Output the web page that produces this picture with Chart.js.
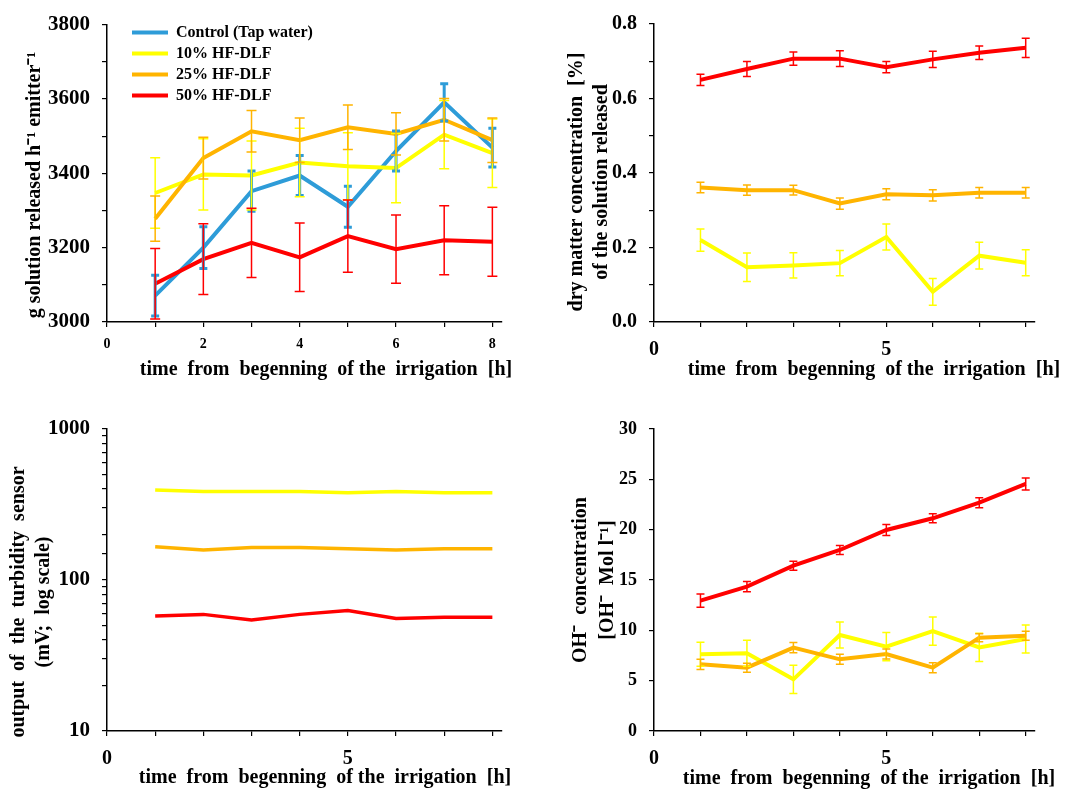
<!DOCTYPE html>
<html>
<head>
<meta charset="utf-8">
<script src="https://cdn.jsdelivr.net/npm/chart.js@4.4.1/dist/chart.umd.min.js"></script>
<style>
body { margin: 0; background: #fff; }
#wrap { position: relative; width: 1070px; height: 792px; overflow: hidden; }
canvas { position: absolute; }
</style>
</head>
<body>
<div id="wrap">
<canvas id="flow-chart" width="535" height="396" style="left:0px;top:0px"></canvas>
<canvas id="dry-chart" width="535" height="396" style="left:535px;top:0px"></canvas>
<canvas id="turb-chart" width="535" height="396" style="left:0px;top:396px"></canvas>
<canvas id="oh-chart" width="535" height="396" style="left:535px;top:396px"></canvas>
</div>
<script>
// hours after start of irrigation
const hours = [1, 2, 3, 4, 5, 6, 7, 8];

// top left: g solution released per h per emitter
const flowControl = [3071, 3200, 3352, 3394, 3310, 3460, 3591, 3469];
const flowControlErr = [55, 56, 54, 54, 55, 54, 50, 52];
const flow10 = [3347, 3397, 3394, 3429, 3419, 3414, 3504, 3454];
const flow10Err = [95, 96, 93, 92, 90, 93, 92, 92];
const flow25 = [3278, 3441, 3513, 3489, 3524, 3506, 3544, 3489];
const flow25Err = [61, 56, 56, 60, 60, 57, 57, 60];
const flow50 = [3103, 3169, 3213, 3174, 3231, 3196, 3220, 3216];
const flow50Err = [95, 95, 93, 92, 97, 92, 93, 93];

// top right: dry matter concentration [%]
const dry10 = [0.220, 0.147, 0.152, 0.158, 0.228, 0.081, 0.178, 0.159];
const dry10Err = [0.030, 0.038, 0.034, 0.034, 0.035, 0.036, 0.036, 0.035];
const dry25 = [0.361, 0.354, 0.354, 0.318, 0.343, 0.340, 0.347, 0.347];
const dry25Err = [0.014, 0.014, 0.013, 0.015, 0.015, 0.015, 0.014, 0.014];
const dry50 = [0.650, 0.679, 0.707, 0.707, 0.684, 0.705, 0.723, 0.736];
const dry50Err = [0.015, 0.020, 0.018, 0.021, 0.015, 0.022, 0.018, 0.026];

// bottom left: turbidity sensor output (mV)
const turb10 = [394, 386, 386, 386, 379, 386, 379, 379];
const turb25 = [166, 158, 164, 164, 161, 158, 161, 161];
const turb50 = [57.8, 59.2, 54.3, 59.2, 62.7, 55.7, 56.6, 56.6];

// bottom right: OH- concentration
const oh10 = [7.62, 7.72, 5.13, 9.54, 8.38, 9.93, 8.31, 9.14];
const oh10Err = [1.2, 1.3, 1.4, 1.3, 1.4, 1.4, 1.4, 1.4];
const oh25 = [6.62, 6.29, 8.28, 7.12, 7.65, 6.29, 9.27, 9.47];
const oh25Err = [0.5, 0.45, 0.5, 0.5, 0.5, 0.5, 0.4, 0.45];
const oh50 = [12.95, 14.34, 16.42, 17.98, 19.97, 21.13, 22.68, 24.54];
const oh50Err = [0.65, 0.5, 0.45, 0.45, 0.55, 0.45, 0.5, 0.6];

const seriesNames = ["Control (Tap water)", "10% HF-DLF", "25% HF-DLF", "50% HF-DLF"];
const xTitle = "time  from  begenning  of the  irrigation  [h]";

const BLUE = '#2e9cd8';
const YELLOW = '#ffff00';
const ORANGE = '#ffb400';
const RED = '#ff0000';
const serif = '"Liberation Serif", "Times New Roman", serif';

Chart.defaults.font.family = serif;
Chart.defaults.font.weight = 'bold';
Chart.defaults.color = '#000';
Chart.defaults.animation = false;

// vertical error bars with caps, from dataset.errors
const errorBars = {
    id: 'errorBars',
    afterDatasetsDraw(chart) {
        const ctx = chart.ctx;
        const yScale = chart.scales.y;
        chart.data.datasets.forEach((ds, i) => {
            if (!ds.errors) return;
            const meta = chart.getDatasetMeta(i);
            ctx.save();
            ctx.strokeStyle = ds.borderColor;
            ctx.lineWidth = ds.errorWidth || 1.5;
            const cap = ds.capSize || 4;
            meta.data.forEach((pt, j) => {
                const v = ds.data[j].y;
                const e = ds.errors[j];
                const top = yScale.getPixelForValue(v + e);
                const bot = yScale.getPixelForValue(v - e);
                ctx.beginPath();
                ctx.moveTo(pt.x, top); ctx.lineTo(pt.x, bot);
                ctx.moveTo(pt.x - cap, top); ctx.lineTo(pt.x + cap, top);
                ctx.moveTo(pt.x - cap, bot); ctx.lineTo(pt.x + cap, bot);
                ctx.stroke();
            });
            ctx.restore();
        });
    }
};

// axis titles placed where the figure has them
const axisTitles = {
    id: 'axisTitles',
    afterDraw(chart, args, opts) {
        const ctx = chart.ctx;
        ctx.save();
        ctx.fillStyle = '#000';
        ctx.textAlign = 'center';
        ctx.textBaseline = 'middle';
        for (const t of opts.items || []) {
            ctx.font = 'bold ' + t.size + 'px ' + serif;
            ctx.save();
            ctx.translate(t.x, t.y);
            if (t.vertical) ctx.rotate(-Math.PI / 2);
            ctx.fillText(t.text, 0, 0);
            ctx.restore();
        }
        ctx.restore();
    }
};

Chart.register(errorBars, axisTitles);

const points = function (values) {
    return hours.map((h, i) => ({ x: h, y: values[i] }));
};

const line = function (label, values, color, width, order, errors, errorWidth, capSize) {
    return {
        label: label,
        data: points(values),
        borderColor: color,
        backgroundColor: color,
        borderWidth: width,
        pointRadius: 0,
        tension: 0,
        order: order,
        errors: errors,
        errorWidth: errorWidth,
        capSize: capSize
    };
};

const xAxis = function (height, fontSize, pad, labelEvery) {
    return {
        type: 'linear',
        min: 0,
        max: 8.2,
        afterFit: (scale) => { scale.height = height; },
        border: { display: true, color: '#000', width: 1.5 },
        grid: { drawOnChartArea: false, color: '#000', tickLength: 5, lineWidth: 1.2 },
        ticks: {
            stepSize: 1,
            includeBounds: false,
            maxRotation: 0,
            autoSkip: false,
            padding: pad,
            font: { size: fontSize, weight: 'bold' },
            callback: (v) => (v % labelEvery === 0 ? v : '')
        }
    };
};

const yAxis = function (width, fontSize, extra) {
    return Object.assign({
        type: 'linear',
        afterFit: (scale) => { scale.width = width; },
        border: { display: true, color: '#000', width: 1.5 },
        grid: { drawOnChartArea: false, color: '#000', tickLength: 5, lineWidth: 1.2 }
    }, extra, {
        ticks: Object.assign({
            autoSkip: false,
            padding: 12,
            font: { size: fontSize, weight: 'bold' }
        }, extra.ticks)
    });
};

// top left
new Chart(document.getElementById('flow-chart'), {
    type: 'line',
    data: {
        datasets: [
            line(seriesNames[0], flowControl, BLUE, 4, 4, flowControlErr, 3, 4),
            line(seriesNames[1], flow10, YELLOW, 4, 3, flow10Err, 1.5, 5),
            line(seriesNames[2], flow25, ORANGE, 4, 2, flow25Err, 1.5, 5),
            line(seriesNames[3], flow50, RED, 4, 1, flow50Err, 1.5, 5)
        ]
    },
    options: {
        responsive: false,
        layout: { padding: { left: 0, top: 20, right: 33, bottom: 0 } },
        scales: {
            x: xAxis(74, 14, 9, 2),
            y: yAxis(107, 21, {
                min: 3000, max: 3800,
                ticks: { stepSize: 100, callback: (v) => (v % 200 === 0 ? v : '') }
            })
        },
        plugins: {
            legend: {
                position: 'chartArea',
                align: 'start',
                labels: {
                    usePointStyle: true,
                    pointStyle: 'line',
                    pointStyleWidth: 36,
                    boxHeight: 16,
                    padding: 5,
                    color: '#000',
                    font: { size: 16, weight: 'bold', lineHeight: 1 },
                    sort: (a, b) => a.datasetIndex - b.datasetIndex
                }
            },
            tooltip: { enabled: false },
            axisTitles: {
                items: [
                    { text: "g solution released h\u207B\u00B9 emitter\u207B\u00B9", x: 35, y: 185, size: 20, vertical: true },
                    { text: xTitle, x: 326, y: 370, size: 20 }
                ]
            }
        }
    },
    plugins: [{
        id: 'legendShift',
        afterLayout(chart) {
            const lg = chart.legend;
            const h = lg.bottom - lg.top;
            lg.left = chart.chartArea.left + 20;
            lg.top = chart.chartArea.top - 5;
            lg.bottom = lg.top + h;
        }
    }]
});

// top right
new Chart(document.getElementById('dry-chart'), {
    type: 'line',
    data: {
        datasets: [
            line(seriesNames[1], dry10, YELLOW, 4, 3, dry10Err, 1.5, 4),
            line(seriesNames[2], dry25, ORANGE, 4, 2, dry25Err, 1.5, 4),
            line(seriesNames[3], dry50, RED, 4, 1, dry50Err, 1.5, 4)
        ]
    },
    options: {
        responsive: false,
        layout: { padding: { left: 0, top: 20, right: 35, bottom: 0 } },
        scales: {
            x: xAxis(74, 20, 11, 5),
            y: yAxis(119, 20, {
                min: 0, max: 0.8,
                ticks: { stepSize: 0.1, callback: (v) => (Math.round(v * 10) % 2 === 0 ? v.toFixed(1) : '') }
            })
        },
        plugins: {
            legend: { display: false },
            tooltip: { enabled: false },
            axisTitles: {
                items: [
                    { text: "dry matter concentration  [%]", x: 42, y: 182, size: 20, vertical: true },
                    { text: "of the solution released", x: 67, y: 182, size: 20, vertical: true },
                    { text: xTitle, x: 339, y: 370, size: 20 }
                ]
            }
        }
    }
});

// bottom left
new Chart(document.getElementById('turb-chart'), {
    type: 'line',
    data: {
        datasets: [
            line(seriesNames[1], turb10, YELLOW, 3.5, 3),
            line(seriesNames[2], turb25, ORANGE, 3.5, 2),
            line(seriesNames[3], turb50, RED, 3.5, 1)
        ]
    },
    options: {
        responsive: false,
        layout: { padding: { left: 0, top: 33, right: 33, bottom: 0 } },
        scales: {
            x: xAxis(61, 20, 11, 5),
            y: yAxis(107, 21, {
                type: 'logarithmic',
                min: 10, max: 1000,
                ticks: { callback: (v) => ([10, 100, 1000].includes(v) ? v : '') }
            })
        },
        plugins: {
            legend: { display: false },
            tooltip: { enabled: false },
            axisTitles: {
                items: [
                    { text: "output  of  the  turbidity  sensor", x: 19, y: 206, size: 20, vertical: true },
                    { text: "(mV;  log scale)", x: 44, y: 206, size: 20, vertical: true },
                    { text: xTitle, x: 325, y: 382, size: 20 }
                ]
            }
        }
    }
});

// bottom right
new Chart(document.getElementById('oh-chart'), {
    type: 'line',
    data: {
        datasets: [
            line(seriesNames[1], oh10, YELLOW, 4, 3, oh10Err, 1.5, 4),
            line(seriesNames[2], oh25, ORANGE, 4, 2, oh25Err, 1.5, 4),
            line(seriesNames[3], oh50, RED, 4, 1, oh50Err, 1.5, 4)
        ]
    },
    options: {
        responsive: false,
        layout: { padding: { left: 0, top: 33, right: 35, bottom: 0 } },
        scales: {
            x: xAxis(61, 20, 11, 5),
            y: yAxis(119, 18, {
                min: 0, max: 30,
                ticks: { stepSize: 5 }
            })
        },
        plugins: {
            legend: { display: false },
            tooltip: { enabled: false },
            axisTitles: {
                items: [
                    { text: "OH\u207B  concentration", x: 46, y: 184, size: 20, vertical: true },
                    { text: "[OH\u207B  Mol l\u207B\u00B9]", x: 73, y: 184, size: 20, vertical: true },
                    { text: xTitle, x: 334, y: 383, size: 20 }
                ]
            }
        }
    }
});
</script>
</body>
</html>
